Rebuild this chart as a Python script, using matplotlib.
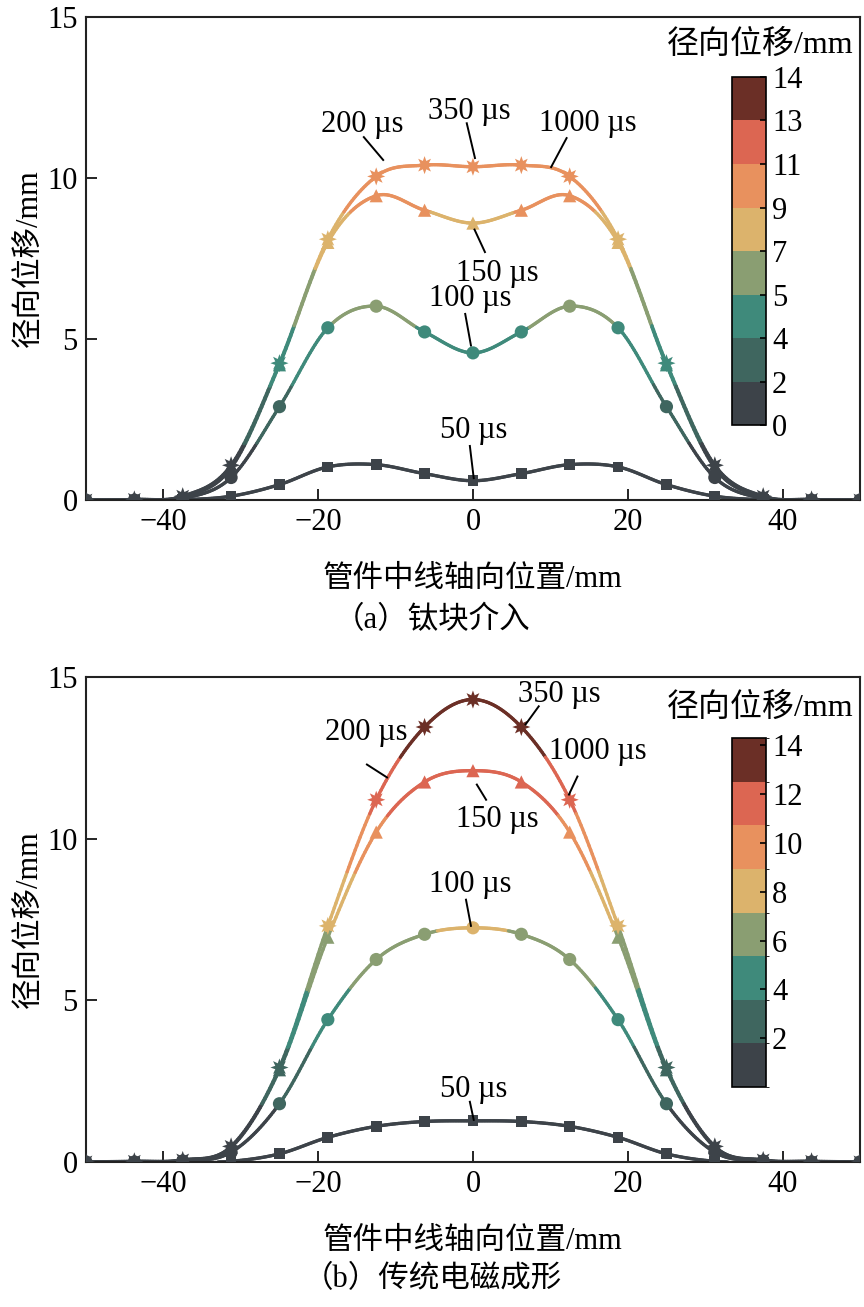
import numpy as np
import matplotlib
matplotlib.use('Agg')
import matplotlib.pyplot as plt
from matplotlib.collections import LineCollection
from matplotlib.colors import ListedColormap, BoundaryNorm
from matplotlib.cm import ScalarMappable

plt.rcParams['font.family'] = ['Liberation Serif', 'Noto Sans CJK SC']
plt.rcParams['font.size'] = 22

# 轴向位置 (mm)
x_pos = [-50, -43.75, -37.5, -31.25, -25, -18.75, -12.5, -6.25, 0,
         6.25, 12.5, 18.75, 25, 31.25, 37.5, 43.75, 50]

# (a) 钛块介入
a_50us = [0, 0, 0.01, 0.12, 0.48, 1.03, 1.1, 0.82, 0.6,
          0.82, 1.1, 1.03, 0.48, 0.12, 0.01, 0, 0]
a_100us = [0, 0, 0.05, 0.7, 2.9, 5.35, 6.02, 5.22, 4.57,
           5.22, 6.02, 5.35, 2.9, 0.7, 0.05, 0, 0]
a_150us = [0, 0.01, 0.1, 1.0, 4.2, 8.0, 9.45, 9.0, 8.6,
           9.0, 9.45, 8.0, 4.2, 1.0, 0.1, 0.01, 0]
a_late = [0, 0.02, 0.12, 1.08, 4.25, 8.1, 10.05, 10.4, 10.35,
          10.4, 10.05, 8.1, 4.25, 1.08, 0.12, 0.02, 0]   # 200/350/1000 us

# (b) 传统电磁成形
b_50us = [0, 0, 0, 0.02, 0.25, 0.76, 1.1, 1.25, 1.27,
          1.25, 1.1, 0.76, 0.25, 0.02, 0, 0, 0]
b_100us = [0, 0, 0.03, 0.3, 1.8, 4.4, 6.26, 7.04, 7.24,
           7.04, 6.26, 4.4, 1.8, 0.3, 0.03, 0, 0]
b_150us = [0, 0, 0.05, 0.45, 2.85, 6.95, 10.2, 11.75, 12.1,
           11.75, 10.2, 6.95, 2.85, 0.45, 0.05, 0, 0]
b_late = [0, 0.02, 0.06, 0.48, 2.92, 7.3, 11.2, 13.45, 14.3,
          13.45, 11.2, 7.3, 2.92, 0.48, 0.06, 0.02, 0]  # 200/350/1000 us

cbar_labels_a = ['0', '2', '4', '5', '7', '9', '11', '13', '14']
cbar_ticks_b = [2, 4, 6, 8, 10, 12, 14]

colors = ['#3d4349', '#3f665f', '#3f8a7b', '#8a9e72',
          '#dcb36c', '#e8915e', '#dc6652', '#6b2f26']
cmap = ListedColormap(colors)
bounds = np.linspace(0, 14.3, 9)
norm = BoundaryNorm(bounds, cmap.N, clip=True)


def smooth(x, y, n=30):
    # 三次 Hermite 平滑连线（仅用于绘制曲线）
    x = np.asarray(x, float)
    y = np.asarray(y, float)
    m = np.gradient(y, x)
    xs, ys = [], []
    t = np.linspace(0, 1, n, endpoint=False)
    h00 = 2 * t**3 - 3 * t**2 + 1
    h10 = t**3 - 2 * t**2 + t
    h01 = -2 * t**3 + 3 * t**2
    h11 = t**3 - t**2
    for i in range(len(x) - 1):
        h = x[i + 1] - x[i]
        xs.append(x[i] + t * h)
        ys.append(h00 * y[i] + h10 * h * m[i] + h01 * y[i + 1] + h11 * h * m[i + 1])
    xs.append([x[-1]])
    ys.append([y[-1]])
    return np.concatenate(xs), np.clip(np.concatenate(ys), 0, None)


def draw_curve(ax, y, marker, ms):
    xs, ys = smooth(x_pos, y)
    pts = np.column_stack([xs, ys]).reshape(-1, 1, 2)
    segs = np.concatenate([pts[:-1], pts[1:]], axis=1)
    mid = (ys[:-1] + ys[1:]) / 2
    lc = LineCollection(segs, colors=cmap(norm(mid)), linewidths=2.4,
                        capstyle='round', zorder=2)
    ax.add_collection(lc)
    ax.scatter(x_pos, y, c=y, cmap=cmap, norm=norm, marker=marker, s=ms,
               edgecolors='none', zorder=3)


def label(ax, text, txy, p0, p1):
    ax.text(txy[0], txy[1], text, ha='center', va='center', fontsize=22)
    ax.plot([p0[0], p1[0]], [p0[1], p1[1]], color='black', lw=1.4, zorder=4)


def style_axes(ax):
    ax.set_xlim(-50, 50)
    ax.set_ylim(0, 15)
    ax.set_xticks([-40, -20, 0, 20, 40])
    ax.set_yticks([0, 5, 10, 15])
    ax.tick_params(direction='in', length=8, width=1.2, labelsize=22,
                   top=False, right=False, pad=6)
    for s in ax.spines.values():
        s.set_linewidth(1.5)
        s.set_color('#222222')
    ax.set_xlabel('管件中线轴向位置/mm', fontsize=22)
    ax.set_ylabel('径向位移/mm', fontsize=22)
    ax.xaxis.set_label_coords(0.5, -0.135)
    ax.yaxis.set_label_coords(-0.054, 0.5)


fig = plt.figure(figsize=(8.64, 13.07), dpi=100)
ax_a = fig.add_axes([0.0995, 0.6174, 0.8958, 0.3696])
ax_b = fig.add_axes([0.0995, 0.1110, 0.8958, 0.3711])

# (a)
draw_curve(ax_a, a_50us, 's', 60)
draw_curve(ax_a, a_100us, 'o', 90)
draw_curve(ax_a, a_150us, '^', 90)
draw_curve(ax_a, a_late, (8, 1, 0), 170)
style_axes(ax_a)
label(ax_a, '200 µs', (-14.3, 11.65), (-14.1, 11.27), (-11.6, 10.56))
label(ax_a, '350 µs', (-0.5, 12.05), (-0.8, 11.7), (0.26, 10.62))
label(ax_a, '1000 µs', (14.9, 11.7), (12.1, 11.24), (10.1, 10.34))
label(ax_a, '150 µs', (3.2, 7.05), (0.2, 8.4), (1.55, 7.7))
label(ax_a, '100 µs', (-0.4, 6.27), (-1.0, 5.78), (-0.26, 4.8))
label(ax_a, '50 µs', (0.1, 2.17), (-0.4, 1.68), (0.1, 0.68))

# (b)
draw_curve(ax_b, b_50us, 's', 60)
draw_curve(ax_b, b_100us, 'o', 90)
draw_curve(ax_b, b_150us, '^', 90)
draw_curve(ax_b, b_late, (8, 1, 0), 170)
style_axes(ax_b)
label(ax_b, '350 µs', (11.1, 14.46), (8.5, 14.09), (6.8, 13.53))
label(ax_b, '200 µs', (-13.8, 13.28), (-13.7, 12.29), (-11.1, 11.89))
label(ax_b, '1000 µs', (16.1, 12.69), (13.5, 11.92), (12.4, 11.36))
label(ax_b, '150 µs', (3.2, 10.59), (0.5, 11.67), (1.7, 11.2))
label(ax_b, '100 µs', (-0.4, 8.58), (-0.9, 8.11), (-0.26, 7.3))
label(ax_b, '50 µs', (0.1, 2.23), (-0.4, 1.86), (0.1, 1.3))

sm = ScalarMappable(norm=norm, cmap=cmap)

cax_a = fig.add_axes([0.847, 0.6748, 0.040, 0.2663])
cb_a = fig.colorbar(sm, cax=cax_a, ticks=bounds)
cb_a.set_ticklabels(cbar_labels_a)
cax_b = fig.add_axes([0.847, 0.1683, 0.040, 0.2670])
cb_b = fig.colorbar(sm, cax=cax_b, ticks=cbar_ticks_b)
for cb in (cb_a, cb_b):
    cb.outline.set_linewidth(1.2)
    cb.ax.tick_params(direction='in', length=4, width=1.2, labelsize=22, pad=4)

fig.text(0.880, 0.9656, '径向位移/mm', ha='center', va='center', fontsize=23)
fig.text(0.880, 0.4583, '径向位移/mm', ha='center', va='center', fontsize=23)

fig.text(0.5, 0.5255, '（a）钛块介入', ha='center', va='center', fontsize=22)
fig.text(0.5, 0.0207, '（b）传统电磁成形', ha='center', va='center', fontsize=22)

fig.savefig('out.png', dpi=100)
